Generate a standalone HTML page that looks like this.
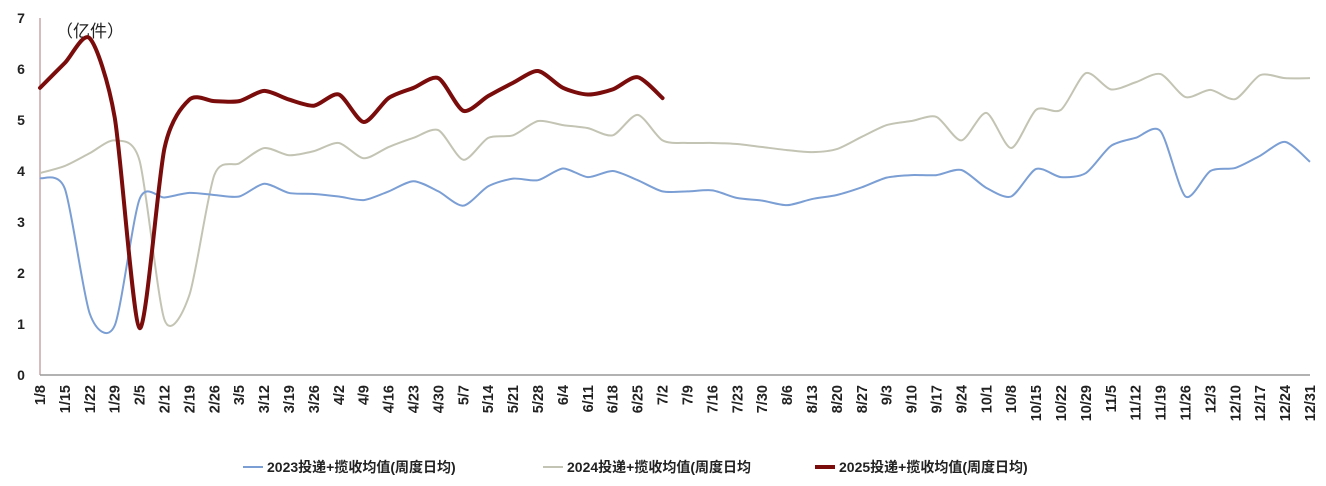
<!DOCTYPE html>
<html><head><meta charset="utf-8">
<style>
body{margin:0;background:#fff;}
svg{display:block;font-family:"Liberation Sans","Noto Sans CJK SC",sans-serif;}
</style></head>
<body>
<svg id="chart" width="1326" height="486" viewBox="0 0 1326 486"></svg>
<script>
const categories=["1/8","1/15","1/22","1/29","2/5","2/12","2/19","2/26","3/5","3/12","3/19","3/26","4/2","4/9","4/16","4/23","4/30","5/7","5/14","5/21","5/28","6/4","6/11","6/18","6/25","7/2","7/9","7/16","7/23","7/30","8/6","8/13","8/20","8/27","9/3","9/10","9/17","9/24","10/1","10/8","10/15","10/22","10/29","11/5","11/12","11/19","11/26","12/3","12/10","12/17","12/24","12/31"];
const s2023=[3.86,3.65,1.2,0.97,3.45,3.48,3.57,3.53,3.5,3.75,3.57,3.55,3.5,3.43,3.6,3.8,3.6,3.32,3.7,3.85,3.82,4.05,3.88,4.0,3.82,3.6,3.6,3.62,3.47,3.42,3.33,3.45,3.53,3.68,3.87,3.92,3.92,4.02,3.67,3.5,4.04,3.88,3.96,4.49,4.65,4.78,3.5,4.0,4.06,4.3,4.57,4.18];
const s2024=[3.96,4.1,4.35,4.6,4.2,1.08,1.57,3.92,4.15,4.45,4.31,4.39,4.55,4.25,4.47,4.65,4.8,4.22,4.65,4.7,4.98,4.9,4.84,4.7,5.1,4.6,4.55,4.55,4.53,4.47,4.41,4.37,4.43,4.67,4.9,4.98,5.06,4.6,5.14,4.45,5.2,5.2,5.92,5.6,5.74,5.9,5.45,5.59,5.41,5.88,5.82,5.82];
const s2025=[5.63,6.12,6.6,5.05,0.92,4.45,5.4,5.37,5.37,5.57,5.4,5.28,5.5,4.96,5.43,5.63,5.82,5.18,5.47,5.73,5.96,5.63,5.5,5.6,5.84,5.43];
const yTicks=[0,1,2,3,4,5,6,7];
const legendLabels=["2023投递+揽收均值(周度日均)","2024投递+揽收均值(周度日均","2025投递+揽收均值(周度日均)"];

const NS="http://www.w3.org/2000/svg";
const svg=document.getElementById('chart');
const X0=40,X1=1310,Y0=375,PERU=51;
const xs=i=>X0+(X1-X0)*i/(categories.length-1);
const ys=v=>Y0-v*PERU;
function mk(tag,attrs,parent){const e=document.createElementNS(NS,tag);for(const k in attrs)e.setAttribute(k,attrs[k]);(parent||svg).appendChild(e);return e;}

let a=mk('line',{x1:X0,y1:18,x2:X0,y2:Y0,stroke:'#c9a6a6','stroke-width':1.5});


a=mk('line',{x1:X0,y1:Y0,x2:X1,y2:Y0,stroke:'#999','stroke-width':1.5});


yTicks.forEach(t=>{
  const e=mk('text',{x:21,y:ys(t)+5,'text-anchor':'middle','font-size':14,'font-weight':'bold',fill:'#222'});
  e.textContent=t;
  
  
});
let u=mk('text',{x:56,y:37,'font-size':17,fill:'#222'});
u.textContent='（亿件）';


categories.forEach((c,i)=>{
  const x=xs(i);
  const e=mk('text',{transform:`translate(${x+5},${385}) rotate(-90)`,'text-anchor':'end','font-size':14.5,'font-weight':'bold',fill:'#222'});
  e.textContent=c;
  
  
});
function smooth(vals){
  const p=vals.map((v,i)=>[xs(i),ys(v)]);
  let d=`M${p[0][0]},${p[0][1]}`;
  for(let i=0;i<p.length-1;i++){
    const p0=p[i-1]||p[i],p1=p[i],p2=p[i+1],p3=p[i+2]||p2;
    const t=0.13;
    d+=` C${p1[0]+(p2[0]-p0[0])*t},${p1[1]+(p2[1]-p0[1])*t} ${p2[0]-(p3[0]-p1[0])*t},${p2[1]-(p3[1]-p1[1])*t} ${p2[0]},${p2[1]}`;
  }
  return d;
}
let l=mk('path',{d:smooth(s2024),fill:'none',stroke:'#c4c4b4','stroke-width':2});


l=mk('path',{d:smooth(s2023),fill:'none',stroke:'#7b9fd4','stroke-width':2});


l=mk('path',{d:smooth(s2025),fill:'none',stroke:'#7a0c0c','stroke-width':4,'stroke-linecap':'round'});



const legColors=['#7b9fd4','#c4c4b4','#7a0c0c'],legW=[2,2,4],legX=[243,543,815];
legendLabels.forEach((t,i)=>{
  const g=mk('g',{});
  
  
  mk('line',{x1:legX[i],y1:467,x2:legX[i]+20,y2:467,stroke:legColors[i],'stroke-width':legW[i]},g);
  const e=mk('text',{x:legX[i]+24,y:472,'font-size':14,'font-weight':'bold',fill:'#222'},g);
  e.textContent=t;
});
</script>
</body></html>
